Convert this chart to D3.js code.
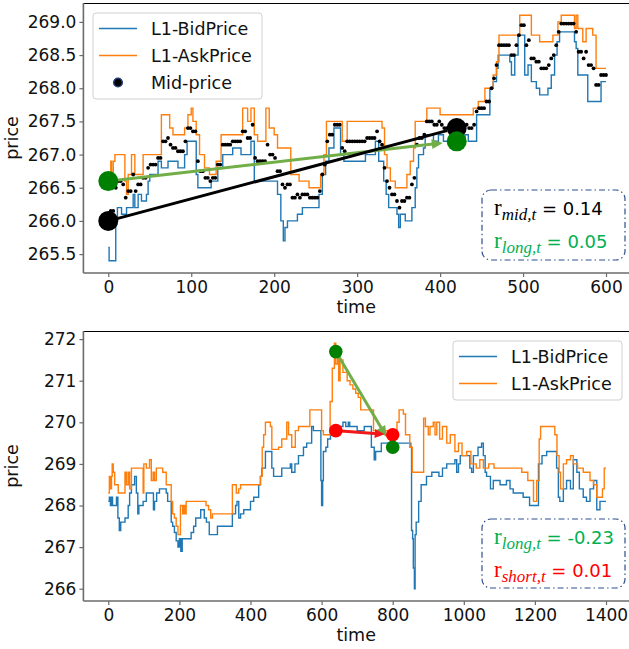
<!DOCTYPE html>
<html>
<head>
<meta charset="utf-8">
<script src="https://cdn.jsdelivr.net/npm/d3@7"></script>
<style>
  body { margin: 0; background: #fff; }
  text { font-family: "DejaVu Sans", sans-serif; }
</style>
</head>
<body>
<div id="chart"></div>
<script>
// datos (tiempo, precio)

const topBid = [[0,265.6],[1,265.4],[9,266.0],[11,266.2],[16,266.1],[22,266.2],[30,266.4],[32,266.2],[36,266.4],[40,266.3],[46,266.4],[48,266.6],[50,266.7],[60,266.9],[64,266.8],[72,266.9],[84,266.8],[92,267.0],[95,267.2],[106,266.7],[108,266.5],[124,266.6],[132,266.8],[138,267.0],[150,267.1],[160,267.0],[172,267.2],[176,266.6],[204,266.4],[208,266.0],[211,265.7],[213,265.9],[216,266.0],[228,266.1],[234,266.2],[254,266.4],[258,266.7],[262,266.9],[266,267.1],[272,267.4],[280,267.0],[284,266.9],[310,267.0],[322,267.2],[326,266.9],[332,266.6],[335,266.4],[338,266.2],[348,266.1],[350,265.9],[352,266.1],[358,266.0],[366,266.2],[370,266.5],[372,266.8],[374,267.0],[380,267.1],[382,267.3],[392,267.2],[398,267.3],[404,267.2],[430,267.3],[434,267.2],[444,267.6],[460,268.0],[464,268.1],[468,268.3],[470,268.5],[484,268.4],[486,268.2],[490,268.5],[494,268.8],[502,268.2],[506,268.35],[510,268.1],[516,268.0],[520,267.9],[530,268.0],[534,268.2],[538,268.5],[541,268.7],[544,268.85],[562,268.7],[564,268.6],[566,268.2],[578,267.8],[594,268.1],[600,268.1]]

const topAsk = [[0,266.6],[3,266.9],[4,266.6],[6,266.9],[8,267.0],[20,266.6],[22,266.4],[24,266.7],[28,267.0],[32,266.7],[42,267.0],[64,267.6],[74,267.4],[78,267.3],[92,267.4],[96,267.6],[100,267.7],[102,267.5],[106,267.3],[110,267.0],[116,266.8],[122,266.7],[130,266.9],[136,267.3],[162,267.7],[168,267.5],[172,267.7],[176,267.3],[180,267.2],[190,267.7],[194,267.4],[200,267.3],[204,267.1],[220,266.7],[230,266.6],[242,266.5],[256,266.7],[260,267.0],[263,267.5],[282,267.2],[288,267.5],[330,267.4],[333,267.0],[336,266.8],[340,266.6],[346,266.5],[360,266.7],[364,266.9],[368,267.1],[370,267.5],[384,267.7],[400,267.6],[440,267.7],[446,267.8],[454,268.0],[464,268.2],[468,268.4],[471,268.8],[496,269.1],[510,268.8],[520,268.7],[536,268.8],[542,269.0],[546,269.1],[562,268.9],[564,269.1],[566,268.9],[572,268.7],[576,268.9],[584,268.8],[588,268.3],[600,268.3]]

const botBid = [[0,268.1],[3,268.2],[6,268.0],[8,268.2],[12,268.0],[23,268.2],[27,267.7],[31,267.4],[35,267.6],[47,267.7],[56,268.0],[60,268.3],[65,268.5],[74,268.7],[79,268.3],[83,267.8],[86,268.0],[98,268.1],[107,268.3],[127,267.9],[130,268.1],[136,268.3],[144,268.4],[163,268.3],[167,268.1],[177,267.6],[181,267.5],[186,267.35],[191,267.15],[196,267.0],[200,267.2],[204,266.9],[208,267.2],[233,267.35],[240,267.5],[246,267.7],[260,267.9],[270,267.7],[276,267.6],[284,267.3],[307,267.5],[349,267.8],[358,268.0],[362,268.1],[367,267.7],[372,267.8],[381,267.9],[400,268.1],[409,268.2],[423,268.5],[428,268.7],[432,268.9],[442,269.3],[460,268.9],[465,268.7],[488,268.9],[512,269.0],[516,268.8],[525,269.0],[535,269.2],[549,269.4],[558,269.5],[572,269.9],[577,269.8],[598,268.6],[600,268.0],[603,268.6],[605,269.3],[612,269.4],[617,269.6],[625,269.7],[631,269.8],[650,269.9],[660,270.0],[668,269.9],[675,270.0],[679,269.9],[700,269.8],[720,269.9],[740,269.4],[748,269.1],[752,269.3],[768,269.5],[851,269.4],[853,267.4],[856,267.2],[858,266.5],[861,266.0],[863,267.3],[866,267.6],[873,268.1],[880,268.5],[895,268.7],[910,268.8],[930,268.7],[940,268.9],[952,269.0],[975,269.1],[980,268.8],[985,269.0],[990,269.2],[1017,268.9],[1022,268.8],[1027,269.2],[1040,269.4],[1050,269.5],[1055,269.2],[1060,268.8],[1064,268.7],[1075,268.4],[1083,268.6],[1102,268.5],[1120,268.6],[1130,268.4],[1139,268.3],[1167,268.2],[1185,268.0],[1210,269.0],[1220,269.2],[1233,269.3],[1261,268.9],[1266,268.2],[1270,268.1],[1280,268.4],[1289,268.6],[1300,268.4],[1308,269.1],[1318,268.8],[1325,268.4],[1336,268.2],[1345,268.1],[1355,268.4],[1365,268.6],[1374,267.9],[1383,268.1],[1400,268.1]]

const botAsk = [[0,268.3],[3,268.7],[6,268.4],[9,268.7],[11,269.0],[14,268.8],[18,268.5],[28,268.3],[47,268.8],[51,268.5],[56,268.8],[60,268.4],[65,268.9],[98,268.3],[100,269.0],[107,268.9],[116,269.1],[121,268.6],[126,268.8],[130,268.6],[135,268.9],[153,268.8],[163,268.5],[177,268.1],[181,267.8],[186,267.7],[191,267.5],[196,267.3],[203,268.0],[209,267.8],[213,268.0],[216,267.8],[219,268.1],[275,268.0],[282,267.9],[288,267.7],[293,267.8],[349,268.5],[360,268.3],[367,268.4],[372,268.5],[428,268.7],[433,269.4],[437,269.7],[442,270.0],[456,269.9],[460,269.35],[479,269.4],[488,269.6],[502,270.0],[507,269.7],[516,269.4],[526,269.8],[535,269.9],[567,270.3],[600,269.8],[605,269.7],[624,270.5],[630,271.3],[636,271.9],[640,271.4],[645,271.7],[648,271.0],[652,271.5],[660,271.2],[672,271.0],[680,270.9],[688,270.8],[696,270.7],[703,270.6],[710,270.3],[746,269.8],[812,270.0],[818,270.3],[830,270.2],[836,269.7],[848,269.4],[855,268.8],[887,270.1],[892,269.9],[900,269.7],[905,269.9],[914,270.0],[919,269.7],[924,270.0],[932,269.6],[940,269.9],[952,269.5],[962,269.7],[975,269.3],[985,269.5],[995,269.2],[1008,269.3],[1020,269.0],[1035,268.9],[1045,269.1],[1055,268.9],[1070,269.0],[1085,268.9],[1163,268.8],[1180,268.6],[1196,268.1],[1205,268.6],[1212,269.6],[1216,269.9],[1256,269.7],[1262,269.2],[1268,268.8],[1272,268.4],[1280,269.0],[1289,269.1],[1300,269.2],[1308,269.0],[1320,268.9],[1336,268.8],[1355,268.6],[1365,268.5],[1374,268.2],[1390,268.4],[1395,268.9],[1400,268.9]]

// instantes del mid-price (cada 3 pasos)
const midTimes = d3.range(0, 601, 3)

// puntos marcados
const topPoints = [{t: 0, p: 266.0, c: "black"}, {t: 0, p: 266.6, c: "green"}, {t: 420, p: 267.4, c: "black"}, {t: 420, p: 267.2, c: "green"}]
const botPoints = [{t: 640, p: 271.7, c: "green"}, {t: 640, p: 269.8, c: "red"}, {t: 800, p: 269.7, c: "red"}, {t: 800, p: 269.4, c: "green"}]

const topTicksX = [0, 100, 200, 300, 400, 500, 600]
const topTicksY = [265.5, 266.0, 266.5, 267.0, 267.5, 268.0, 268.5, 269.0]
const botTicksX = [0, 200, 400, 600, 800, 1000, 1200, 1400]
const botTicksY = [266, 267, 268, 269, 270, 271, 272]

const topLabels = [{sub: "mid,t", val: "0.14", color: "black"}, {sub: "long,t", val: "0.05", color: "#00b050"}]
const botLabels = [{sub: "long,t", val: "-0.23", color: "#00b050"}, {sub: "short,t", val: "0.01", color: "#ff0000"}]

// constantes

const width = 629
const height = 649
const left = 83.4, right = 630.9
const blue = "#1f77b4", orange = "#ff7f0e"

const svg = d3.select("#chart").append("svg").attr("width", width).attr("height", height)

function stepAt(series, t) {
    let v = series[0][1]
    for (const p of series) { if (p[0] <= t) v = p[1]; else break }
    return v
}

function drawAxes(g, x, y, top, bottom, ticksX, ticksY, fmt) {
    // marco
    g.append("line").attr("x1", left).attr("x2", right).attr("y1", top + 0.5).attr("y2", top + 0.5).attr("stroke", "#000").attr("stroke-width", 1)
    g.append("line").attr("x1", left).attr("x2", left).attr("y1", top).attr("y2", bottom).attr("stroke", "#6b6b6b").attr("stroke-width", 1.6)
    g.append("line").attr("x1", left).attr("x2", right).attr("y1", bottom).attr("y2", bottom).attr("stroke", "#6b6b6b").attr("stroke-width", 1.6)

    const xAxis = d3.axisBottom(x).tickValues(ticksX).tickSize(4).tickPadding(4).tickFormat(d3.format("d"))
    const yAxis = d3.axisLeft(y).tickValues(ticksY).tickSize(4).tickPadding(3).tickFormat(fmt)
    const xg = g.append("g").attr("transform", `translate(0,${bottom})`).call(xAxis)
    const yg = g.append("g").attr("transform", `translate(${left},0)`).call(yAxis)
    for (const a of [xg, yg]) {
        a.select(".domain").remove()
        a.selectAll("line").attr("stroke", "#6b6b6b").attr("stroke-width", 1.2)
        a.selectAll("text").attr("fill", "#111").style("font-size", "17px").style("font-family", "DejaVu Sans")
    }
    g.append("text").attr("transform", `translate(18,${(top + bottom) / 2}) rotate(-90)`)
        .attr("text-anchor", "middle").style("font-size", "17.5px").attr("fill", "#111").text("price")
    g.append("text").attr("x", (left + right) / 2 - 1).attr("y", bottom + 40)
        .attr("text-anchor", "middle").style("font-size", "17.5px").attr("fill", "#111").text("time")
}

function drawLines(g, x, y, bid, ask) {
    const line = d3.line().x(d => x(d[0])).y(d => y(d[1])).curve(d3.curveStepAfter)
    g.append("path").datum(bid).attr("d", line).attr("fill", "none").attr("stroke", blue).attr("stroke-width", 1.4)
    g.append("path").datum(ask).attr("d", line).attr("fill", "none").attr("stroke", orange).attr("stroke-width", 1.4)
}

function arrow(g, x, y, t0, p0, t1, p1, color, s0, s1, head) {
    const xa = x(t0), ya = y(p0), xb = x(t1), yb = y(p1)
    const L = Math.hypot(xb - xa, yb - ya), ux = (xb - xa) / L, uy = (yb - ya) / L
    const sx = xa + ux * s0, sy = ya + uy * s0
    const ex = xb - ux * s1, ey = yb - uy * s1
    g.append("line").attr("x1", sx).attr("y1", sy).attr("x2", ex - ux * head * 0.7).attr("y2", ey - uy * head * 0.7)
        .attr("stroke", color).attr("stroke-width", 3)
    if (head > 0) {
        const bx = ex - ux * head, by = ey - uy * head, w = head * 0.45
        g.append("path").attr("d", `M${ex},${ey}L${bx - uy * w},${by + ux * w}L${bx + uy * w},${by - ux * w}Z`).attr("fill", color)
    }
}

function legend(g, x0, y0, w, h, items) {
    g.append("rect").attr("x", x0).attr("y", y0).attr("width", w).attr("height", h).attr("rx", 3)
        .attr("fill", "#fff").attr("fill-opacity", 0.85).attr("stroke", "#d0d0d0")
    items.forEach((it, i) => {
        const yy = y0 + 15.5 + i * 27
        if (it.type === "line") {
            g.append("line").attr("x1", x0 + 6).attr("x2", x0 + 44).attr("y1", yy).attr("y2", yy).attr("stroke", it.color).attr("stroke-width", 1.5)
        } else {
            g.append("circle").attr("cx", x0 + 25).attr("cy", yy).attr("r", 4.3).attr("fill", "#000").attr("stroke", "#1f3d7a").attr("stroke-width", 1.5)
        }
        g.append("text").attr("x", x0 + 58).attr("y", yy + 6.5).style("font-size", "17.5px").attr("fill", "#111").text(it.label)
    })
}

function rBox(g, x0, y0, w, h, labels) {
    g.append("rect").attr("x", x0).attr("y", y0).attr("width", w).attr("height", h).attr("rx", 9)
        .attr("fill", "#fff").attr("stroke", "#2e4f8f").attr("stroke-width", 1.2).attr("stroke-dasharray", "6,3,1.5,3")
    labels.forEach((l, i) => {
        const t = g.append("text").attr("x", x0 + 12).attr("y", y0 + 25 + i * 33).attr("fill", l.color)
        t.append("tspan").style("font-family", "Liberation Serif").style("font-size", "23px").text("r")
        t.append("tspan").attr("dy", 5).style("font-family", "Liberation Serif").style("font-style", "italic").style("font-size", "17px").text(l.sub)
        t.append("tspan").attr("dy", -5).style("font-family", "DejaVu Sans").style("font-size", "18px").text(" = " + l.val)
    })
}

// panel superior

const top1 = 3, bot1 = 273
const x1 = d3.scaleLinear().domain([-30, 630]).range([left, right])
const y1 = d3.scaleLinear().domain([265.215, 269.285]).range([bot1, top1])
const g1 = svg.append("g")
drawAxes(g1, x1, y1, top1, bot1, topTicksX, topTicksY, d3.format(".1f"))
drawLines(g1, x1, y1, topBid, topAsk)

const mids = midTimes.map(t => [t, (stepAt(topBid, t) + stepAt(topAsk, t)) / 2])
g1.append("g").selectAll("circle").data(mids).join("circle")
    .attr("cx", d => x1(d[0])).attr("cy", d => y1(d[1])).attr("r", 1.9).attr("fill", "#000")

arrow(g1, x1, y1, 0, 266.6, 420, 267.2, "#72ae48", 8, 14, 11)
arrow(g1, x1, y1, 0, 266.0, 420, 267.4, "#000", 9, 10, 0)
g1.append("g").selectAll("circle").data(topPoints).join("circle")
    .attr("cx", d => x1(d.t)).attr("cy", d => y1(d.p)).attr("r", 10).attr("fill", d => d.c)

legend(g1, 93, 13, 169, 86, [{type: "line", color: blue, label: "L1-BidPrice"}, {type: "line", color: orange, label: "L1-AskPrice"}, {type: "dot", label: "Mid-price"}])
rBox(g1, 482, 190, 143, 70, topLabels)

// panel inferior

const top2 = 331, bot2 = 601
const x2 = d3.scaleLinear().domain([-70, 1470]).range([left, right])
const y2 = d3.scaleLinear().domain([265.705, 272.195]).range([bot2, top2])
const g2 = svg.append("g")
drawAxes(g2, x2, y2, top2, bot2, botTicksX, botTicksY, d3.format("d"))
drawLines(g2, x2, y2, botBid, botAsk)

arrow(g2, x2, y2, 640, 271.7, 800, 269.4, "#72ae48", 2, 12, 11)
arrow(g2, x2, y2, 640, 269.8, 800, 269.7, "#f01818", 2, 8, 10)
g2.append("g").selectAll("circle").data(botPoints).join("circle")
    .attr("cx", d => x2(d.t)).attr("cy", d => y2(d.p)).attr("r", 6.8).attr("fill", d => d.c)

legend(g2, 453, 341, 169, 59, [{type: "line", color: blue, label: "L1-BidPrice"}, {type: "line", color: orange, label: "L1-AskPrice"}])
rBox(g2, 482, 519, 143, 69, botLabels)
</script>
</body>
</html>
